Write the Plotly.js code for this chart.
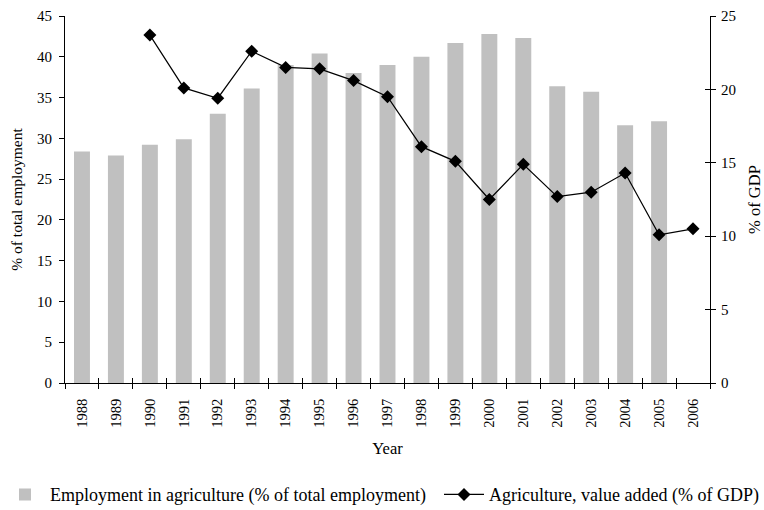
<!DOCTYPE html>
<html><head><meta charset="utf-8">
<script src="https://cdn.plot.ly/plotly-3.0.1.min.js"></script>
<style>body{margin:0;background:#fff}</style>
</head><body><div id="chart" style="width:764px;height:510px"></div>
<script>
const years = ["1988","1989","1990","1991","1992","1993","1994","1995","1996","1997","1998","1999","2000","2001","2002","2003","2004","2005","2006"];
const employment = [28.4,27.9,29.2,29.9,33.0,36.1,39.0,40.4,38.0,39.0,40.0,41.7,42.8,42.3,36.4,35.7,31.6,32.1,null];
const valueAdded = [null,null,23.7,20.1,19.4,22.6,21.5,21.4,20.6,19.5,16.1,15.1,12.5,14.9,12.7,13.0,14.3,10.1,10.5];

const fam = "Liberation Serif, Times New Roman, serif";
const f = (s) => ({family:fam, size:s, color:"#000"});
const traces = [
  {type:"bar", x:years, y:employment, name:"Employment in agriculture (% of total employment)",
   marker:{color:"#c0c0c0"}, width:0.47, xaxis:"x", yaxis:"y", legend:"legend"},
  {type:"scatter", mode:"lines+markers", x:years, y:valueAdded, name:"Agriculture, value added (% of GDP)",
   line:{color:"#000", width:1.2}, marker:{symbol:"diamond", size:10, color:"#000"}, xaxis:"x", yaxis:"y2",
   connectgaps:false, legend:"legend2"},
  // invisible helper trace so the inner half of the crossing tick marks is drawn
  {type:"scatter", mode:"markers", x:years, y:valueAdded, xaxis:"x2", yaxis:"y3", showlegend:false,
   marker:{opacity:0}, hoverinfo:"skip"}
];
const catRange = [-0.5, years.length - 0.5];
const legFont = f(18);
const layout = {
  width:764, height:510, font:f(14), paper_bgcolor:"#fff", plot_bgcolor:"rgba(0,0,0,0)",
  margin:{l:65, r:54, t:16, b:127},
  showlegend:true,
  legend:{orientation:"h", x:0, xanchor:"left", xref:"container", y:0.03, yref:"container", yanchor:"middle",
    font:legFont, itemwidth:40},
  legend2:{orientation:"h", x:1, xanchor:"right", xref:"container", y:0.03, yref:"container", yanchor:"middle",
    font:legFont, itemwidth:40},
  xaxis:{type:"category", range:catRange, showline:true, linecolor:"#000", linewidth:1, ticks:"outside", ticklen:5, tickcolor:"#000",
    tickson:"boundaries", tickangle:-90, showgrid:false, zeroline:false, tickfont:f(14.5), ticklabelstandoff:9, automargin:false,
    title:{text:"Year", font:f(16.5), standoff:15}},
  xaxis2:{type:"category", range:catRange, overlaying:"x", side:"bottom", anchor:"y", showline:false, ticks:"inside", ticklen:5,
    tickcolor:"#000", tickson:"boundaries", showticklabels:false, showgrid:false, zeroline:false, automargin:false},
  yaxis:{range:[0,45], dtick:5, showline:true, linecolor:"#000", linewidth:1, ticks:"outside", ticklen:5, tickcolor:"#000",
    showgrid:false, zeroline:false, tickfont:f(15), ticklabelstandoff:4, automargin:false,
    title:{text:"% of total employment", font:f(15.5), standoff:10}},
  yaxis2:{range:[0,25], dtick:5, overlaying:"y", side:"right", anchor:"x", showline:true, linecolor:"#000", linewidth:1,
    ticks:"outside", ticklen:5, tickcolor:"#000", showgrid:false, zeroline:false, tickfont:f(15), ticklabelstandoff:2, automargin:false,
    title:{text:"% of GDP", font:f(16.5), standoff:13}},
  yaxis3:{range:[0,25], dtick:5, overlaying:"y", side:"right", anchor:"x2", showline:false,
    ticks:"inside", ticklen:5, tickcolor:"#000", showticklabels:false, showgrid:false, zeroline:false, automargin:false},
  bargap:0.5
};
Plotly.newPlot("chart", traces, layout, {displayModeBar:false, staticPlot:true});
</script></body></html>
